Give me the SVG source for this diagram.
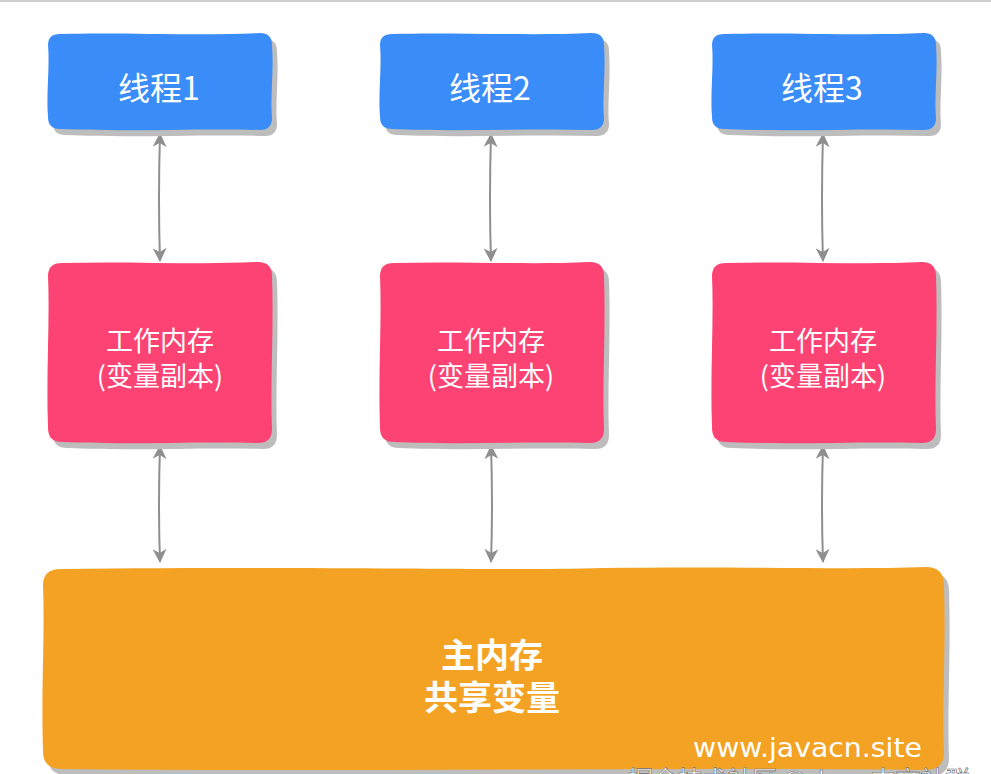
<svg xmlns="http://www.w3.org/2000/svg" xmlns:xlink="http://www.w3.org/1999/xlink" width="991" height="774" viewBox="0 0 991 774">
<style>
.shadow{fill:#bdbdbd}
.blue{fill:#3a8cf8}
.pink{fill:#fd4373}
.orange{fill:#f4a223}
.t{font-family:"Noto Sans CJK SC","Liberation Sans",sans-serif;fill:#ffffff;text-anchor:middle}
.th{font-size:32px}
.tw{font-size:27px}
.tm{font-size:34px;font-weight:bold}
.conn{fill:none;stroke:#8f8f8f;stroke-width:2;marker-start:url(#ah);marker-end:url(#ah)}
</style>
<defs>
<marker id="ah" viewBox="0 0 14 14" refX="13" refY="7" markerWidth="14" markerHeight="14" markerUnits="userSpaceOnUse" orient="auto-start-reverse">
<path d="M0,0 L14,7 L0,14 L4,7 Z" fill="#8f8f8f"/>
</marker>
<path id="sBlue" d="M12,1 C70,-1 150,3 212,0 Q224,0 224,12 C226,40 222,65 224,85 Q224,97 212,97 C150,95 80,99 12,96 Q0,96 0,84 C-2,60 2,35 0,12 Q0,1 12,1 Z"/>
<path id="sPink" d="M14,1 C80,-1 150,3 210,0 Q224,0 224,14 C226,70 222,120 224,167 Q224,181 210,181 C150,179 80,183 14,180 Q0,180 0,166 C-2,110 2,60 0,14 Q0,1 14,1 Z"/>
<path id="sOrange" d="M18,2 C300,-1 450,4 560,1 C700,-1 800,3 883,0 Q901,0 901,18 C903,80 899,140 901,185 Q901,203 883,203 C600,200 300,205 18,202 Q0,202 0,184 C-2,120 2,70 0,18 Q0,2 18,2 Z"/>
</defs>
<rect x="0" y="0" width="991" height="774" fill="#ffffff"/>
<rect x="0" y="0" width="991" height="2" fill="#cfcfcf"/>

<g id="connectors">
<path class="conn" d="M160,134 Q158,200 160,261"/>
<path class="conn" d="M491,134 Q489,200 491,261"/>
<path class="conn" d="M823,134 Q821,200 823,261"/>
<path class="conn" d="M160,446 Q158,505 160,562"/>
<path class="conn" d="M491,446 Q493,505 491,562"/>
<path class="conn" d="M823,446 Q821,505 823,562"/>
</g>

<g id="thread1">
<use xlink:href="#sBlue" class="shadow" x="53" y="39"/>
<use xlink:href="#sBlue" class="blue" x="48" y="33"/>
<text class="t th" x="159" y="100">线程1</text>
</g>
<g id="thread2">
<use xlink:href="#sBlue" class="shadow" x="385" y="39"/>
<use xlink:href="#sBlue" class="blue" x="380" y="33"/>
<text class="t th" x="490" y="100">线程2</text>
</g>
<g id="thread3">
<use xlink:href="#sBlue" class="shadow" x="717" y="39"/>
<use xlink:href="#sBlue" class="blue" x="712" y="33"/>
<text class="t th" x="822" y="100">线程3</text>
</g>

<g id="work1">
<use xlink:href="#sPink" class="shadow" x="53" y="268"/>
<use xlink:href="#sPink" class="pink" x="48" y="262"/>
<text class="t tw" x="160" y="351">工作内存</text>
<text class="t tw" x="160" y="386">(变量副本)</text>
</g>
<g id="work2">
<use xlink:href="#sPink" class="shadow" x="385" y="268"/>
<use xlink:href="#sPink" class="pink" x="380" y="262"/>
<text class="t tw" x="491" y="351">工作内存</text>
<text class="t tw" x="491" y="386">(变量副本)</text>
</g>
<g id="work3">
<use xlink:href="#sPink" class="shadow" x="717" y="268"/>
<use xlink:href="#sPink" class="pink" x="712" y="262"/>
<text class="t tw" x="823" y="351">工作内存</text>
<text class="t tw" x="823" y="386">(变量副本)</text>
</g>

<g id="main">
<use xlink:href="#sOrange" class="shadow" x="48" y="573"/>
<use xlink:href="#sOrange" class="orange" x="43" y="567"/>
<text class="t tm" x="492" y="668">主内存</text>
<text class="t tm" x="492" y="710">共享变量</text>
</g>

<g id="watermark">
<text x="693" y="757" font-family="DejaVu Sans, sans-serif" font-size="26" fill="#ffffff" textLength="229" lengthAdjust="spacingAndGlyphs">www.javacn.site</text>
<text x="628" y="789" font-family="Noto Sans CJK SC, sans-serif" font-size="25" fill="#ffffff" stroke="#666666" stroke-width="0.6" textLength="342" lengthAdjust="spacing">掘金技术社区 @ Java 中文社群</text>
</g>
</svg>
